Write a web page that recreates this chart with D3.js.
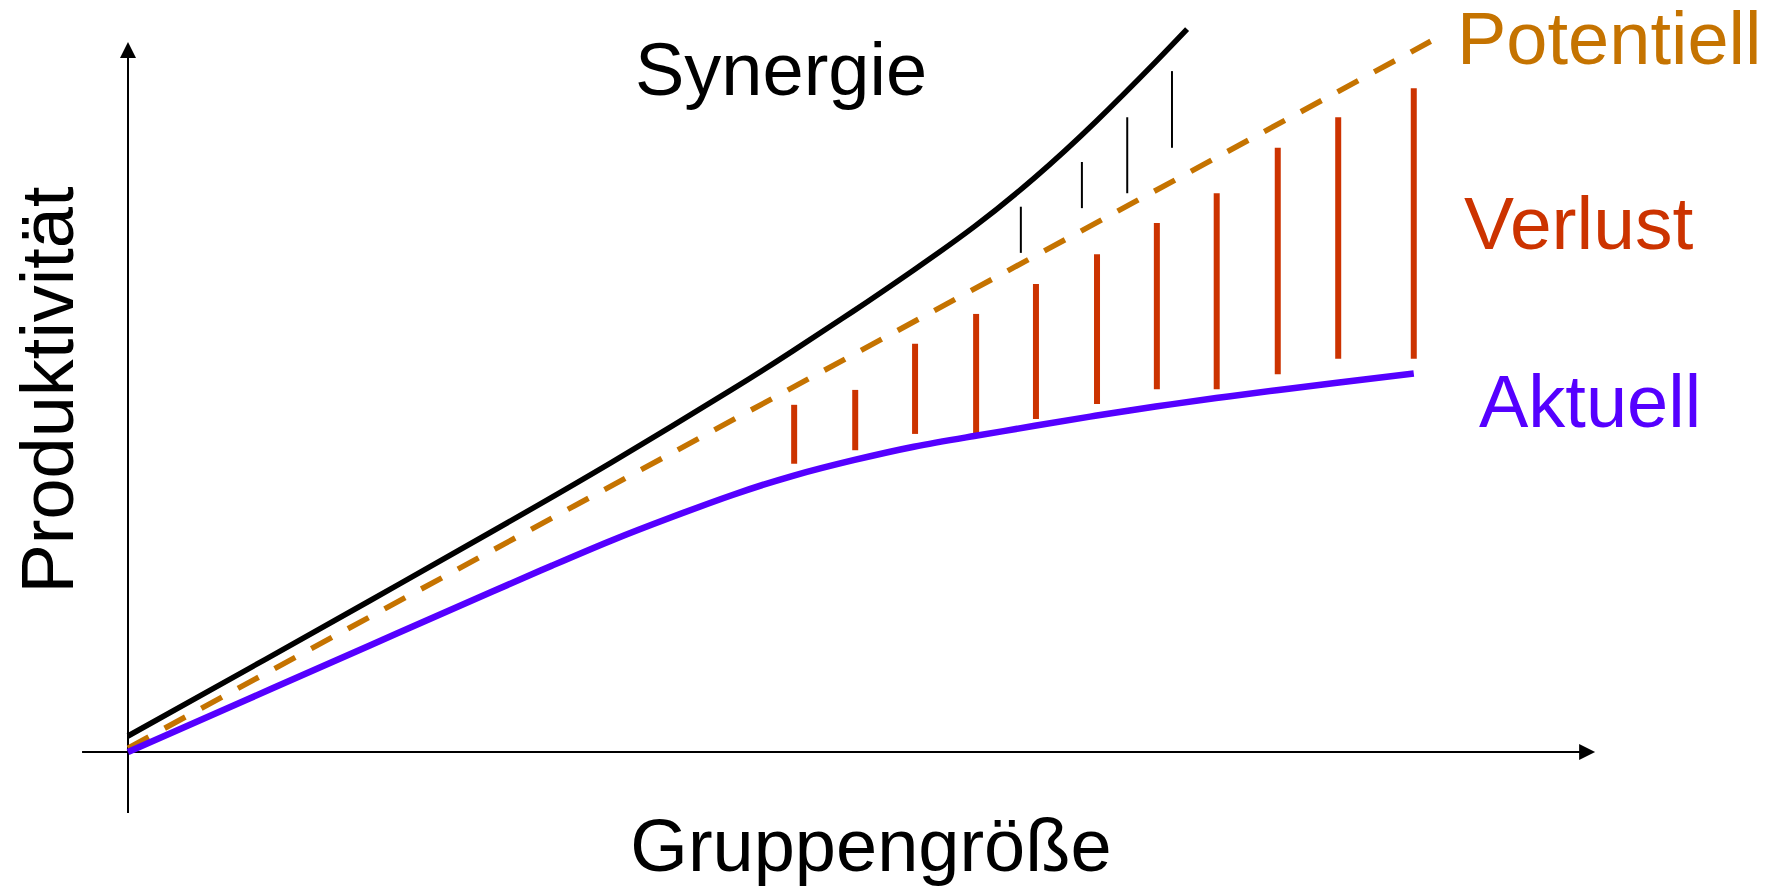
<!DOCTYPE html>
<html>
<head>
<meta charset="utf-8">
<script src="https://cdn.jsdelivr.net/npm/d3@7"></script>
<style>
  html, body { margin: 0; padding: 0; background: #ffffff; }
  svg { display: block; }
  text { font-family: "Liberation Sans", Arial, sans-serif; }
</style>
</head>
<body>
<svg id="chart" width="1770" height="891"></svg>
<script>
// ---- Data (group size on x, productivity on y; arbitrary units) ----
const synergyX   = [0, 2, 4, 6, 8, 10, 11, 12, 13, 14, 15, 16, 17, 17.52];
const synergyY   = [2.25, 11.75, 21.3, 30.95, 40.8, 51.1, 56.5, 62.1, 67.9, 74.0, 80.9, 88.7, 97.2, 101.8];

const potentialX = [0, 21.55];
const potentialY = [0.55, 100.1];

const actualX    = [0, 2, 4, 6, 7, 8, 9, 10, 11, 12, 13, 14, 15, 16, 17, 18, 19, 20, 21.27];
const actualY    = [0, 7.5, 15.0, 22.5, 26.2, 29.8, 33.1, 36.2, 38.9, 41.1, 43.0, 44.5, 45.95, 47.35, 48.65, 49.85, 50.95, 52.0, 53.3];

const lossX      = [11.02, 12.03, 13.02, 14.03, 15.02, 16.03, 17.02, 18.01, 19.02, 20.02, 21.27];
const lossTop    = [48.9, 51.0, 57.5, 61.7, 65.9, 70.1, 74.5, 78.7, 85.1, 89.4, 93.5];
const lossBottom = [40.6, 42.5, 44.8, 44.8, 46.9, 49.0, 51.1, 51.1, 53.2, 55.4, 55.4];

const gainX      = [14.77, 15.78, 16.53, 17.27];
const gainTop    = [76.8, 83.1, 89.4, 95.9];
const gainBottom = [70.3, 76.6, 78.7, 85.1];

const xAxisExtent = [-0.76, 24.27];
const yAxisExtent = [-8.6, 100];

const labels = {
  synergy: "Synergie",
  potential: "Potentiell",
  loss: "Verlust",
  actual: "Aktuell",
  xTitle: "Gruppengröße",
  yTitle: "Produktivität"
};

// ---- Drawing ----
const svg = d3.select("#chart");
const x = d3.scaleLinear().domain([0, 24]).range([128, 128 + 24 * 60.45]);
const y = d3.scaleLinear().domain([0, 100]).range([752, 42]);

const C_BLACK = "#000000";
const C_ORANGE = "#C57300";
const C_RED = "#CC3300";
const C_PURPLE = "#5500FF";

// axes
const ax = svg.append("g");
const arrow = 16, half = 8;
ax.append("line")
  .attr("x1", x(xAxisExtent[0])).attr("x2", x(xAxisExtent[1]) - arrow + 1)
  .attr("y1", y(0)).attr("y2", y(0))
  .attr("stroke", C_BLACK).attr("stroke-width", 2);
ax.append("path")
  .attr("d", `M${x(xAxisExtent[1])},${y(0)} L${x(xAxisExtent[1]) - arrow},${y(0) - half} L${x(xAxisExtent[1]) - arrow},${y(0) + half} Z`)
  .attr("fill", C_BLACK);
ax.append("line")
  .attr("x1", x(0)).attr("x2", x(0))
  .attr("y1", y(yAxisExtent[0])).attr("y2", y(yAxisExtent[1]) + arrow - 1)
  .attr("stroke", C_BLACK).attr("stroke-width", 2);
ax.append("path")
  .attr("d", `M${x(0)},${y(yAxisExtent[1])} L${x(0) - half},${y(yAxisExtent[1]) + arrow} L${x(0) + half},${y(yAxisExtent[1]) + arrow} Z`)
  .attr("fill", C_BLACK);

// loss bars (red)
svg.append("g").selectAll("line")
  .data(lossX.map((v, i) => ({ x: v, t: lossTop[i], b: lossBottom[i] })))
  .join("line")
  .attr("x1", d => x(d.x)).attr("x2", d => x(d.x))
  .attr("y1", d => y(d.t)).attr("y2", d => y(d.b))
  .attr("stroke", C_RED).attr("stroke-width", 6);

// synergy gain bars (thin black)
svg.append("g").selectAll("line")
  .data(gainX.map((v, i) => ({ x: v, t: gainTop[i], b: gainBottom[i] })))
  .join("line")
  .attr("x1", d => x(d.x)).attr("x2", d => x(d.x))
  .attr("y1", d => y(d.t)).attr("y2", d => y(d.b))
  .attr("stroke", C_BLACK).attr("stroke-width", 2);

const zip = (xs, ys) => xs.map((v, i) => [v, ys[i]]);
const lineGen = d3.line().x(d => x(d[0])).y(d => y(d[1])).curve(d3.curveNatural);

// potential (dashed orange)
svg.append("path")
  .attr("d", lineGen(zip(potentialX, potentialY)))
  .attr("fill", "none").attr("stroke", C_ORANGE).attr("stroke-width", 5.5)
  .attr("stroke-dasharray", "23.5,18.2");

// synergy (black)
svg.append("path")
  .attr("d", lineGen(zip(synergyX, synergyY)))
  .attr("fill", "none").attr("stroke", C_BLACK).attr("stroke-width", 5.5);

// actual (purple)
svg.append("path")
  .attr("d", lineGen(zip(actualX, actualY)))
  .attr("fill", "none").attr("stroke", C_PURPLE).attr("stroke-width", 6.5);

// labels
const fs = 74;
svg.append("text").text(labels.synergy)
  .attr("x", 781).attr("y", 95).attr("text-anchor", "middle")
  .attr("font-size", fs).attr("fill", C_BLACK);
svg.append("text").text(labels.potential)
  .attr("x", 1457).attr("y", 64)
  .attr("font-size", fs).attr("fill", C_ORANGE);
svg.append("text").text(labels.loss)
  .attr("x", 1464).attr("y", 249)
  .attr("font-size", 75).attr("fill", C_RED);
svg.append("text").text(labels.actual)
  .attr("x", 1479).attr("y", 427)
  .attr("font-size", fs).attr("fill", C_PURPLE);
svg.append("text").text(labels.xTitle)
  .attr("x", 871).attr("y", 871).attr("text-anchor", "middle")
  .attr("font-size", fs).attr("fill", C_BLACK);
svg.append("text").text(labels.yTitle)
  .attr("transform", "translate(73,390) rotate(-90)")
  .attr("text-anchor", "middle")
  .attr("font-size", fs).attr("fill", C_BLACK);
</script>
</body>
</html>
